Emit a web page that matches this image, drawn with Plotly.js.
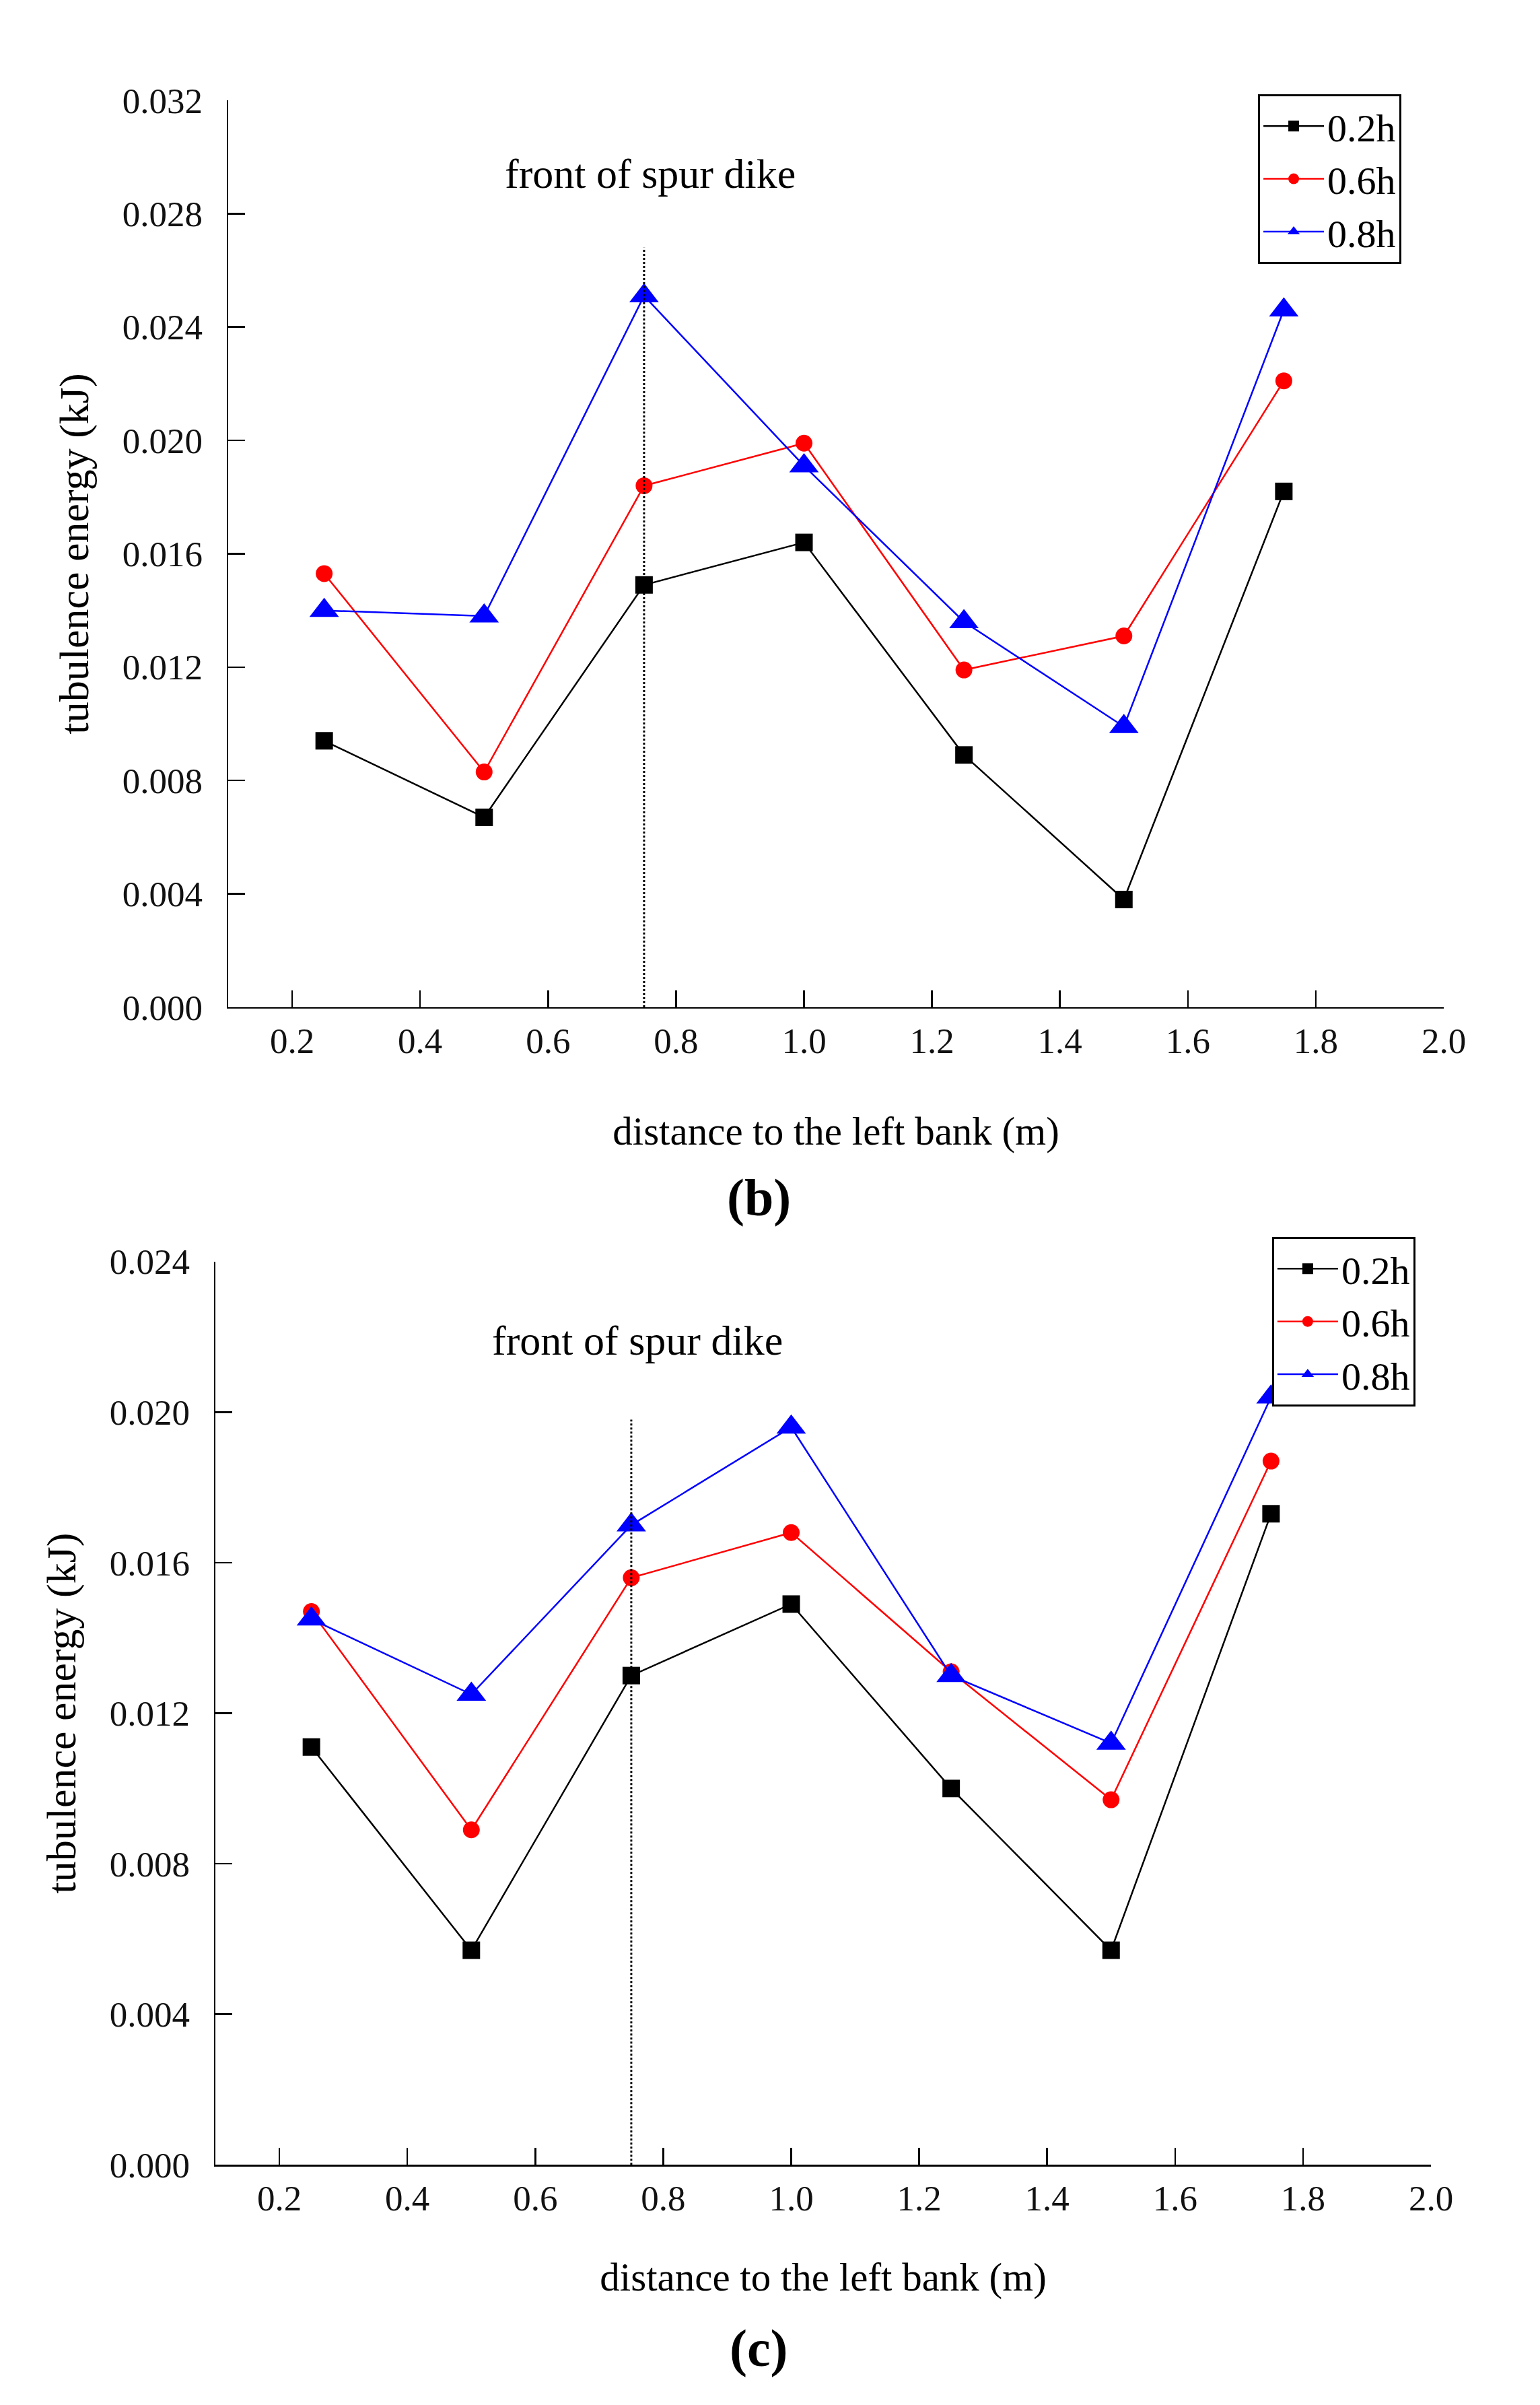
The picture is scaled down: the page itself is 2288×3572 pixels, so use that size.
<!DOCTYPE html>
<html>
<head>
<meta charset="utf-8">
<script src="https://cdn.plot.ly/plotly-3.0.1.min.js"></script>
<style>body{margin:0;background:#fff}</style>
</head>
<body>
<div id="chart" style="width:2288px;height:3572px"></div>
<script>
// distance to the left bank (m)
var xPos = [0.25, 0.5, 0.75, 1.0, 1.25, 1.5, 1.75];

// (b)
var b02 = [0.0094, 0.0067, 0.0149, 0.0164, 0.0089, 0.0038, 0.0182];
var b06 = [0.0153, 0.0083, 0.0184, 0.0199, 0.0119, 0.0131, 0.0221];
var b08 = [0.0140, 0.0138, 0.0251, 0.0191, 0.0136, 0.0099, 0.0246];

// (c)
var c02 = [0.0111, 0.0057, 0.0130, 0.0149, 0.0100, 0.0057, 0.0173];
var c06 = [0.0147, 0.0089, 0.0156, 0.0168, 0.0131, 0.0097, 0.0187];
var c08 = [0.0145, 0.0125, 0.0170, 0.0196, 0.0130, 0.0112, 0.0204];

var seriesNames = ['0.2h', '0.6h', '0.8h'];
var spurX = 0.75;
var spurTopB = 0.0268;
var spurTopC = 0.0198;

var serif = 'Liberation Serif, Times New Roman, serif';
var colors = ['#000000', '#ff0000', '#0000ff'];
var symbols = ['square', 'circle', 'triangle-up'];
var sizes = [26, 25, 38];

function series(y, i, xa, ya, leg) {
  return {
    x: xPos, y: y, name: seriesNames[i],
    xaxis: xa, yaxis: ya, legend: leg,
    type: 'scatter', mode: 'lines+markers',
    line: {color: colors[i], width: 2.5},
    marker: {symbol: symbols[i], size: sizes[i], color: colors[i]}
  };
}

var data = [
  series(b02, 0, 'x', 'y', 'legend'),
  series(b06, 1, 'x', 'y', 'legend'),
  series(b08, 2, 'x', 'y', 'legend'),
  series(c02, 0, 'x2', 'y2', 'legend2'),
  series(c06, 1, 'x2', 'y2', 'legend2'),
  series(c08, 2, 'x2', 'y2', 'legend2')
];

function xAxis(dom, anchor, standoff) {
  return {
    domain: dom, anchor: anchor, range: [0.1, 2.0],
    tick0: 0, dtick: 0.2, tickformat: '.1f',
    ticks: 'inside', ticklen: 25, tickwidth: 2.5, tickcolor: '#000',
    showline: true, linecolor: '#000', linewidth: 2.5,
    showgrid: false, zeroline: false, ticklabelstandoff: 2,
    tickfont: {family: serif, size: 53, color: '#111'},
    title: {text: 'distance to the left bank (m)', standoff: standoff,
            font: {family: serif, size: 59, color: '#000'}}
  };
}
function yAxis(dom, anchor, top) {
  return {
    domain: dom, anchor: anchor, range: [0, top],
    dtick: 0.004, tickformat: '.3f',
    ticks: 'inside', ticklen: 25, tickwidth: 2.5, tickcolor: '#000',
    showline: true, linecolor: '#000', linewidth: 2.5,
    showgrid: false, zeroline: false, ticklabelstandoff: 25,
    tickfont: {family: serif, size: 53, color: '#111'},
    title: {text: 'tubulence energy (kJ)', standoff: 30,
            font: {family: serif, size: 62, color: '#000'}}
  };
}
function legendBox(x, y) {
  return {
    x: x, y: y, xanchor: 'left', yanchor: 'top',
    bgcolor: '#fff', bordercolor: '#000', borderwidth: 3,
    font: {family: serif, size: 58, color: '#000'},
    itemwidth: 90, tracegroupgap: 0
  };
}

var layout = {
  width: 2288, height: 3572,
  margin: {l: 0, r: 0, t: 0, b: 0},
  paper_bgcolor: '#fff', plot_bgcolor: '#fff',
  showlegend: true,
  xaxis: xAxis([0.1482, 0.9375], 'y', 85),
  yaxis: yAxis([0.5812, 0.9583], 'x', 0.032),
  xaxis2: xAxis([0.1399, 0.9292], 'y2', 68),
  yaxis2: yAxis([0.0999, 0.4754], 'x2', 0.024),
  legend: legendBox(0.8169, 0.9608),
  legend2: legendBox(0.826, 0.4857),
  shapes: [
    {type: 'line', xref: 'x', yref: 'y', x0: spurX, x1: spurX, y0: 0, y1: spurTopB,
     line: {color: '#000', width: 3, dash: 'dot'}},
    {type: 'line', xref: 'x2', yref: 'y2', x0: spurX, x1: spurX, y0: 0, y1: spurTopC,
     line: {color: '#000', width: 3, dash: 'dot'}}
  ],
  annotations: [
    {xref: 'x', yref: 'y', x: 0.76, y: 0.0294, text: 'front of spur dike', showarrow: false,
     font: {family: serif, size: 62, color: '#000'}},
    {xref: 'x2', yref: 'y2', x: 0.76, y: 0.0219, text: 'front of spur dike', showarrow: false,
     font: {family: serif, size: 62, color: '#000'}},
    {xref: 'paper', yref: 'paper', x: 0.493, y: 1 - 1778 / 3572, text: '<b>(b)</b>', showarrow: false,
     font: {family: serif, size: 78, color: '#000'}},
    {xref: 'paper', yref: 'paper', x: 0.493, y: 1 - 3533 / 3572, text: '<b>(c)</b>', showarrow: false,
     font: {family: serif, size: 78, color: '#000'}}
  ]
};

Plotly.newPlot('chart', data, layout, {staticPlot: true});
</script>
</body>
</html>
